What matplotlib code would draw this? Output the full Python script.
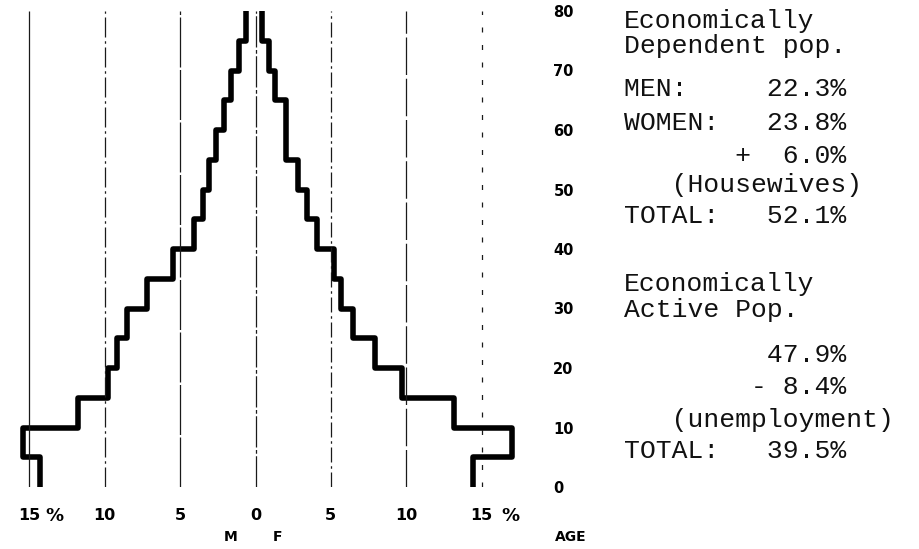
import matplotlib
matplotlib.use("Agg")
import matplotlib.pyplot as plt
import numpy as np

# ---- data -------------------------------------------------------------
age_edges = [0, 5, 10, 15, 20, 25, 30, 35, 40, 45, 50, 55, 60, 65, 70, 75, 80]
# percentage of population per 5-year age group (from youngest to oldest)
men = [14.3, 15.4, 11.8, 9.8, 9.2, 8.5, 7.2, 5.5, 4.1, 3.5, 3.1, 2.6, 2.1, 1.6, 1.1, 0.6]
women = [14.4, 17.0, 13.2, 9.7, 7.9, 6.5, 5.7, 5.2, 4.1, 3.4, 2.8, 2.0, 2.0, 1.3, 0.9, 0.4]

x_ticks = [-15, -10, -5, 0, 5, 10, 15]
x_tick_labels = ["15", "10", "5", "0", "5", "10", "15"]
age_ticks = [0, 10, 20, 30, 40, 50, 60, 70, 80]
age_tick_labels = ["0", "10", "20", "30", "40", "50", "60", "70", "80"]

notes = [
    "Economically",
    "Dependent pop.",
    "MEN:     22.3%",
    "WOMEN:   23.8%",
    "       +  6.0%",
    "   (Housewives)",
    "TOTAL:   52.1%",
    "Economically",
    "Active Pop.",
    "         47.9%",
    "        - 8.4%",
    "   (unemployment)",
    "TOTAL:   39.5%",
]
# ---- layout -----------------------------------------------------------
W, H = 919, 549
note_baselines = [28, 53, 96, 130, 163, 192, 223, 291, 317, 362, 394, 427, 458]

fig = plt.figure(figsize=(W / 100, H / 100), dpi=100)
fig.patch.set_facecolor("white")

ax_left, ax_right = 0, 545
ax_top, ax_bottom = 11, 487
ax = fig.add_axes([ax_left / W, (H - ax_bottom) / H,
                   (ax_right - ax_left) / W, (ax_bottom - ax_top) / H])
x0, xs = 255.5, 15.07  # pixel of 0 %, pixels per %
ax.set_xlim((ax_left - x0) / xs, (ax_right - x0) / xs)
ax.set_ylim(0, 80)
for s in ax.spines.values():
    s.set_visible(False)

grid_styles = {
    -15: "-",
    -10: (0, (16, 3, 2, 3)),
    -5: (0, (40, 2)),
    0: (0, (25, 2, 3, 2)),
    5: (0, (12, 3, 2, 3)),
    10: (0, (30, 3)),
    15: (0, (4, 10)),
}
for xv in x_ticks:
    ax.vlines(xv, 0, 80, colors="#1a1a1a", linewidth=0.9,
              linestyles=[grid_styles[xv]])

ax.stairs(-np.array(men), age_edges, orientation="horizontal", baseline=None,
          color="black", linewidth=4.0, capstyle="round", joinstyle="round")
ax.stairs(np.array(women), age_edges, orientation="horizontal", baseline=None,
          color="black", linewidth=4.0, capstyle="round", joinstyle="round")

ax.set_xticks(x_ticks)
ax.set_xticklabels(x_tick_labels, fontweight="bold", fontsize=11.5)
ax.tick_params(axis="x", length=0, pad=15)

ax.yaxis.tick_right()
ax.set_yticks(age_ticks)
ax.set_yticklabels(age_tick_labels, fontweight="bold", fontsize=10.5)
ax.tick_params(axis="y", length=0, pad=6)

ypx = 5.95  # pixels per year
def ydat(py):
    return (ax_bottom - py) / ypx

ax.text((54 - x0) / xs, ydat(521), "%", fontsize=13, fontweight="bold",
        ha="center", va="baseline")
ax.text((510 - x0) / xs, ydat(521), "%", fontsize=13, fontweight="bold",
        ha="center", va="baseline")
ax.text((231 - x0) / xs, ydat(537), "M", fontsize=10, fontweight="bold",
        ha="center", va="center")
ax.text((278 - x0) / xs, ydat(537), "F", fontsize=10, fontweight="bold",
        ha="center", va="center")
ax.text((555 - x0) / xs, ydat(537), "AGE", fontsize=10, fontweight="bold",
        ha="left", va="center")

for line, base in zip(notes, note_baselines):
    fig.text(624 / W, 1 - base / H, line, family="Liberation Mono",
             fontsize=19, color="#111111", ha="left", va="baseline")

fig.savefig("out.png", dpi=100, facecolor="white")
